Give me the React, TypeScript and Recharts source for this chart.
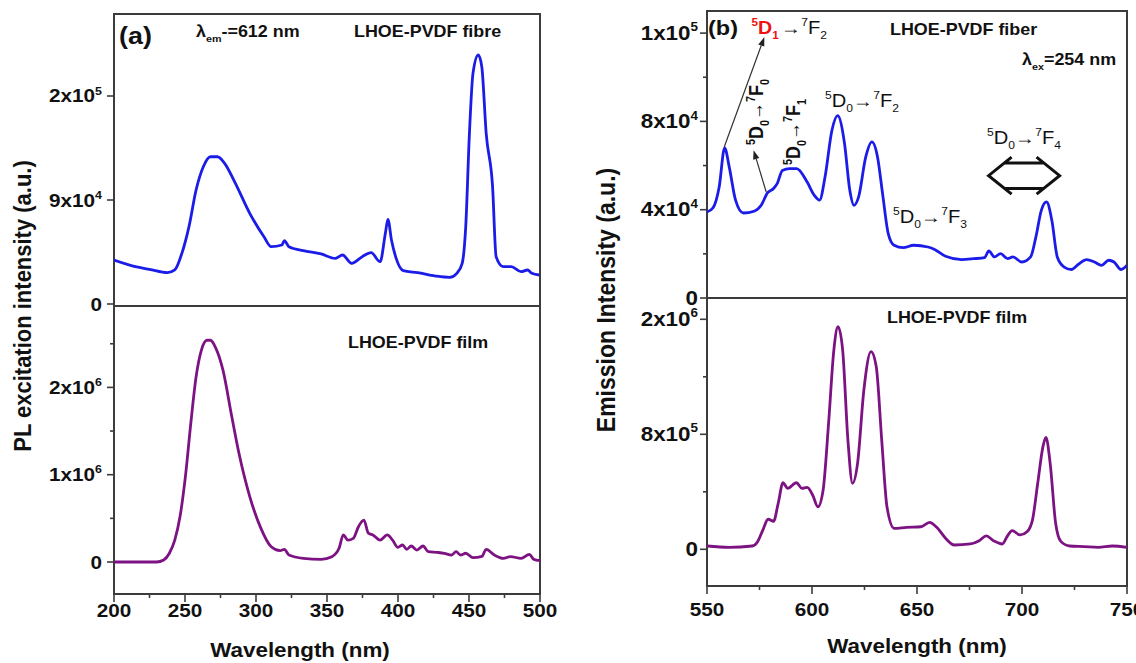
import { LineChart, Line, XAxis, YAxis, ReferenceArea, ReferenceLine } from 'recharts'

// ── look ────────────────────────────────────────────────────────────────────
const FONT   = '"Liberation Sans", Arial, Helvetica, sans-serif'
const SX     = 1.12          // the figure is a bit stretched sideways
const INK    = '#111111'
const FRAME  = '#3c3c3c'
const BLUE   = '#1c1ce8'
const PURPLE = '#7d1283'

// ── (a) excitation, LHOE-PVDF fibre ─────────────────────────────────────────
const excFibreNm = [
  200, 215, 225, 237.7, 242.8, 247.8, 252.8, 257.8, 262.9, 267.9,
  272.9, 277.9, 285.5, 295.6, 305.6, 310.7, 318.2, 320, 323.2, 333.3,
  345.9, 355.9, 361, 367.3, 374.8, 381.1, 387.4, 391.1, 392.9, 395.4,
  398.7, 403.7, 413.8, 426.4, 436.4, 441.4, 445.2, 447.7, 450.3, 452.8,
  456.5, 459, 462.1, 466.6, 469.1, 474.1, 479.7, 486.7, 491.2, 494.3,
  499.5,
]
const excFibreI = [
  42300, 35900, 33300, 30100, 32700, 48700, 74400, 109600, 132000, 141600,
  141600, 135300, 116000, 87200, 64700, 55100, 56700, 60900, 55100, 51300,
  48100, 43900, 47100, 39100, 45500, 49400, 40700, 68000, 81400, 61500,
  43900, 32100, 30100, 26900, 25600, 29500, 39100, 74400, 164000, 221800,
  239400, 228200, 164000, 112800, 45500, 35900, 35900, 31100, 32700, 29500,
  27900,
]

// ── (a) excitation, LHOE-PVDF film ──────────────────────────────────────────
const excFilmNm = [
  200, 230, 235, 239, 242.8, 246.5, 250.3, 254.1, 257.8, 261.6,
  265.4, 267.9, 271.7, 276.7, 283, 288, 295.6, 303.1, 310.7, 317,
  320, 323.2, 333.3, 345.9, 353.4, 358.5, 361.5, 364.7, 368.5, 372.3,
  376, 379.1, 382.3, 387.4, 392.4, 396.2, 399.9, 403.2, 406.2, 409.3,
  413.3, 417.6, 421.3, 427.6, 432.6, 437.7, 440.9, 444, 447.7, 452.8,
  459.1, 462.1, 467.9, 474.1, 479.2, 486.7, 492.5, 495.5, 500,
]
const excFilmI = [
  0, 0, 23000, 100000, 250000, 520000, 980000, 1590000, 2120000, 2430000,
  2540000, 2540000, 2450000, 2200000, 1660000, 1245000, 750000, 400000, 175000, 130000,
  145000, 80000, 42000, 31000, 61000, 157000, 310000, 250000, 270000, 410000,
  480000, 330000, 310000, 250000, 310000, 250000, 168000, 195000, 145000, 183000,
  137000, 183000, 118000, 110000, 100000, 80000, 118000, 80000, 100000, 50000,
  65000, 145000, 80000, 42000, 61000, 42000, 88000, 31000, 15000,
]

// ── (b) emission, LHOE-PVDF fiber ───────────────────────────────────────────
const emFibreNm = [
  550, 552.9, 555.8, 558.4, 560.6, 563.6, 567.3, 572.4, 575.8, 578.8,
  581.7, 583.4, 585.9, 589.3, 592.7, 597.7, 601.1, 603.6, 606.2, 609.5,
  612.2, 615.5, 618, 620, 622.2, 625.6, 628.5, 631.2, 633.6, 636.3,
  639.1, 643.4, 648.4, 655.2, 658.6, 663.6, 671.3, 677.1, 682.2, 684.2,
  686.9, 689.8, 693.2, 695.7, 699.9, 704.1, 706.6, 709.2, 711.7, 714.2,
  716.8, 720.1, 723.5, 726.9, 730.8, 734.5, 737.9, 741.3, 743.8, 747.2,
  750,
]
const emFibreI = [
  38960, 40900, 50300, 68000, 59300, 44300, 38500, 39300, 42000, 47600,
  49600, 51800, 57800, 58600, 58600, 52500, 46500, 44300, 54800, 76000,
  82600, 69900, 48800, 42000, 45800, 63900, 70700, 63900, 47300, 29200,
  23900, 22800, 23900, 23100, 21900, 18900, 17400, 17800, 18300, 21300,
  18600, 20100, 17800, 18600, 16300, 18600, 27600, 39700, 43500, 35200,
  18600, 14000, 12900, 15300, 17400, 16300, 14800, 17100, 16300, 12900,
  14800,
]

// ── (b) emission, LHOE-PVDF film ────────────────────────────────────────────
const emFilmNm = [
  550, 560.5, 571.5, 574.1, 576.6, 579.1, 581.7, 583.9, 586.2, 588.4,
  592.6, 595.2, 597.7, 600.3, 602.8, 605.3, 607.9, 610.4, 612.4, 614.6,
  617.1, 619.3, 621.7, 624.7, 628.1, 630.6, 633.2, 635.7, 639.1, 645,
  651.8, 656, 659.4, 663.6, 667.8, 675.4, 679.6, 683, 686.4, 690.6,
  693.1, 695.3, 699.1, 702.4, 705, 707.5, 710, 711.4, 713.4, 716,
  718.5, 722.7, 729.5, 736.3, 743, 750,
]
const emFilmI = [
  23000, 14000, 23000, 53000, 134000, 209000, 195000, 320000, 463000, 424000,
  463000, 424000, 431000, 378000, 296000, 413000, 877000, 1386000, 1549000, 1386000,
  760000, 459000, 598000, 1108000, 1375000, 1270000, 760000, 296000, 146000, 153000,
  157000, 188000, 153000, 77000, 30000, 37000, 60000, 93000, 60000, 37000,
  93000, 130000, 100000, 122000, 205000, 461000, 716000, 779000, 600000, 183000,
  55000, 23000, 19000, 14000, 23000, 14000,
]

// ── ticks (an empty label = minor tick) ─────────────────────────────────────
const excNmTicks      = [200, 225, 250, 275, 300, 325, 350, 375, 400, 425, 450, 475, 500]
const excNmLabels     = ['200', '', '250', '', '300', '', '350', '', '400', '', '450', '', '500']
const emNmTicks       = [550, 575, 600, 625, 650, 675, 700, 725, 750]
const emNmLabels      = ['550', '', '600', '', '650', '', '700', '', '750']

const excFibreTicks   = [0, 100000, 200000]
const excFibreLabels  = ['0', '9x10^4', '2x10^5']
const excFilmTicks    = [0, 500000, 1000000, 1500000, 2000000, 2500000]
const excFilmLabels   = ['0', '', '1x10^6', '', '2x10^6', '']
const emFibreTicks    = [0, 20000, 40000, 60000, 80000, 100000, 120000]
const emFibreLabels   = ['0', '', '4x10^4', '', '8x10^4', '', '1x10^5']
const emFilmTicks     = [0, 400000, 800000, 1200000, 1600000]
const emFilmLabels    = ['0', '', '8x10^5', '', '2x10^6']

const zip = (nm: number[], v: number[]) => nm.map((x, i) => ({ nm: x, v: v[i] }))

// ── text with ^sup and _sub markup ──────────────────────────────────────────
interface Part { t: string; sup?: boolean; sub?: boolean; thin?: boolean }

function parseMarkup(s: string): Part[] {
  const out: Part[] = []
  let buf = ''
  const flush = () => { if (buf) { out.push({ t: buf }); buf = '' } }
  for (let i = 0; i < s.length; i++) {
    const c = s[i]
    if (c === '^' || c === '_') {
      flush()
      let t = ''
      if (s[i + 1] === '{') {
        const j = s.indexOf('}', i + 2)
        t = s.slice(i + 2, j)
        i = j
      } else {
        t = s[i + 1]
        i++
      }
      out.push({ t, sup: c === '^', sub: c === '_' })
    } else if (c === '→') {
      flush()
      out.push({ t: c, thin: true })
    } else {
      buf += c
    }
  }
  flush()
  return out
}

interface RichProps {
  x: number
  y: number
  text: string
  size: number
  bold?: boolean
  anchor?: 'start' | 'middle' | 'end'
  rotate?: boolean
  fill?: string
}

function Rich({ x, y, text, size, bold, anchor = 'start', rotate, fill = INK }: RichProps) {
  let cur = 0
  const spans = parseMarkup(text).map((p, i) => {
    const target = p.sup ? -0.42 * size : p.sub ? 0.3 * size : 0
    const dy = target - cur
    cur = target
    return (
      <tspan
        key={i}
        dy={dy}
        fontSize={p.sup || p.sub ? size * 0.6 : size}
        fontWeight={p.thin ? 400 : undefined}
      >
        {p.t}
      </tspan>
    )
  })
  return (
    <g transform={`translate(${x},${y}) scale(${SX},1)${rotate ? ' rotate(-90)' : ''}`}>
      <text
        x={0}
        y={0}
        textAnchor={anchor}
        fontFamily={FONT}
        fontSize={size}
        fontWeight={bold ? 700 : 400}
        fill={fill}
      >
        {spans}
      </text>
    </g>
  )
}

// ── axis ticks ──────────────────────────────────────────────────────────────
function YTick(props: any) {
  const { x, y, payload, ticks, labels, size, gap } = props
  const label: string = labels[ticks.indexOf(payload.value)] ?? ''
  const major = label !== ''
  return (
    <g>
      <line x1={x} x2={x - (major ? 7 : 4)} y1={y} y2={y} stroke={FRAME} strokeWidth={1.6} />
      {major && <Rich x={x - gap} y={y + 6.5} text={label} size={size} bold anchor="end" />}
    </g>
  )
}

function XTick(props: any) {
  const { x, y, payload, ticks, labels, drop } = props
  const label: string = labels[ticks.indexOf(payload.value)] ?? ''
  const major = label !== ''
  return (
    <g>
      <line x1={x} x2={x} y1={y} y2={y + (major ? 8 : 4)} stroke={FRAME} strokeWidth={1.6} />
      {major && <Rich x={x} y={y + drop} text={label} size={18.5} bold anchor="middle" />}
    </g>
  )
}

// ── annotation arrows ───────────────────────────────────────────────────────
function ThinArrow(props: any) {
  const { x1, y1, x2, y2 } = props
  const a = Math.atan2(y2 - y1, x2 - x1)
  const len = 9
  const half = 3.2
  const bx = x2 - len * Math.cos(a)
  const by = y2 - len * Math.sin(a)
  const px = -Math.sin(a) * half
  const py = Math.cos(a) * half
  return (
    <g>
      <line x1={x1} y1={y1} x2={bx} y2={by} stroke="#333" strokeWidth={1.2} />
      <polygon points={`${x2},${y2} ${bx + px},${by + py} ${bx - px},${by - py}`} fill="#222" />
    </g>
  )
}

function DoubleArrow(props: any) {
  const { x1, y1, x2 } = props
  const L = Math.min(x1, x2)
  const R = Math.max(x1, x2)
  const cy = y1
  const w = 23
  const h = 18.5
  const s = 12.7
  const k = (w * s) / h
  const d = [
    `M${L + w},${cy - h} L${L},${cy} L${L + w},${cy + h}`,
    `M${R - w},${cy - h} L${R},${cy} L${R - w},${cy + h}`,
    `M${L + k},${cy - s} L${R - k},${cy - s}`,
    `M${L + k},${cy + s} L${R - k},${cy + s}`,
  ].join(' ')
  return <path d={d} fill="none" stroke="#111" strokeWidth={3} strokeLinejoin="miter" />
}

// ── one panel ───────────────────────────────────────────────────────────────
interface PanelProps {
  left: number
  top: number
  width: number
  height: number
  margin: { top: number; right: number; bottom: number; left: number }
  yWidth: number
  xHeight?: number
  data: { nm: number; v: number }[]
  color: string
  xDomain: [number, number]
  yDomain: [number, number]
  yTicks: number[]
  yLabels: string[]
  ySize: number
  yGap: number
  xTicks?: number[]
  xLabels?: string[]
  xDrop?: number
  children?: React.ReactNode
}

function Panel(p: PanelProps) {
  const showX = !!p.xTicks
  return (
    <div style={{ position: 'absolute', left: p.left, top: p.top }}>
      <LineChart width={p.width} height={p.height} data={p.data} margin={p.margin}>
        <XAxis
          type="number"
          dataKey="nm"
          domain={p.xDomain}
          allowDataOverflow
          hide={!showX}
          height={p.xHeight ?? 0}
          ticks={p.xTicks}
          interval={0}
          axisLine={false}
          tickLine={false}
          tickSize={0}
          tickMargin={0}
          tick={(t: any) => <XTick {...t} ticks={p.xTicks} labels={p.xLabels} drop={p.xDrop} />}
        />
        <YAxis
          type="number"
          domain={p.yDomain}
          allowDataOverflow
          width={p.yWidth}
          ticks={p.yTicks}
          interval={0}
          axisLine={false}
          tickLine={false}
          tickSize={0}
          tickMargin={0}
          tick={(t: any) => <YTick {...t} ticks={p.yTicks} labels={p.yLabels} size={p.ySize} gap={p.yGap} />}
        />
        <Line
          type="monotone"
          dataKey="v"
          stroke={p.color}
          strokeWidth={2.8}
          dot={false}
          activeDot={false}
          isAnimationActive={false}
        />
        {p.children}
        <ReferenceArea
          x1={p.xDomain[0]}
          x2={p.xDomain[1]}
          y1={p.yDomain[0]}
          y2={p.yDomain[1]}
          fill="none"
          stroke={FRAME}
          strokeWidth={2}
          ifOverflow="visible"
        />
      </LineChart>
    </div>
  )
}

export default function App() {
  return (
    <div
      style={{
        position:   'absolute',
        left:       0,
        top:        0,
        width:      1136,
        height:     663,
        overflow:   'hidden',
        background: '#ffffff',
      }}
    >
      {/* (a) top: fibre — extra bottom margin so the "0" label is not cut */}
      <Panel
        left={0} top={0} width={560} height={320}
        margin={{ top: 14, right: 20, bottom: 14, left: 0 }}
        yWidth={114}
        data={zip(excFibreNm, excFibreI)}
        color={BLUE}
        xDomain={[200, 500]}
        yDomain={[-1923, 278846]}
        yTicks={excFibreTicks} yLabels={excFibreLabels} ySize={18.5} yGap={12}
      />
      {/* (a) bottom: film */}
      <Panel
        left={0} top={306} width={560} height={357}
        margin={{ top: 0, right: 20, bottom: 0, left: 0 }}
        yWidth={114} xHeight={69}
        data={zip(excFilmNm, excFilmI)}
        color={PURPLE}
        xDomain={[200, 500]}
        yDomain={[-366550, 2932400]}
        yTicks={excFilmTicks} yLabels={excFilmLabels} ySize={18.5} yGap={12}
        xTicks={excNmTicks} xLabels={excNmLabels} xDrop={23}
      />
      {/* (b) top: fiber */}
      <Panel
        left={580} top={0} width={556} height={312}
        margin={{ top: 11, right: 9, bottom: 14, left: 0 }}
        yWidth={127}
        data={zip(emFibreNm, emFibreI)}
        color={BLUE}
        xDomain={[550, 750]}
        yDomain={[0, 130011]}
        yTicks={emFibreTicks} yLabels={emFibreLabels} ySize={20} yGap={9}
      >
        <ReferenceLine
          segment={[{ x: 558.2, y: 68400 }, { x: 577.3, y: 118200 }]}
          shape={(s: any) => <ThinArrow {...s} />}
        />
        <ReferenceLine
          segment={[{ x: 578.2, y: 48000 }, { x: 572.2, y: 66900 }]}
          shape={(s: any) => <ThinArrow {...s} />}
        />
        <ReferenceLine
          segment={[{ x: 684.1, y: 55400 }, { x: 717.9, y: 55400 }]}
          shape={(s: any) => <DoubleArrow {...s} />}
        />
      </Panel>
      {/* (b) bottom: film */}
      <Panel
        left={580} top={298} width={556} height={365}
        margin={{ top: 0, right: 9, bottom: 0, left: 0 }}
        yWidth={127} xHeight={77}
        data={zip(emFilmNm, emFilmI)}
        color={PURPLE}
        xDomain={[550, 750]}
        yDomain={[-255304, 1748174]}
        yTicks={emFilmTicks} yLabels={emFilmLabels} ySize={20} yGap={9}
        xTicks={emNmTicks} xLabels={emNmLabels} xDrop={30}
      />

      {/* text layer */}
      <svg
        width={1136}
        height={663}
        style={{ position: 'absolute', left: 0, top: 0, pointerEvents: 'none' }}
      >
        <Rich x={31} y={306} text="PL excitation intensity (a.u.)" size={22} bold rotate anchor="middle" />
        <Rich x={300} y={657} text="Wavelength (nm)" size={20} bold anchor="middle" />
        <Rich x={119} y={44} text="(a)" size={24} bold />
        <Rich x={196} y={37} text="λ_{em}-=612 nm" size={16} bold />
        <Rich x={354} y={37} text="LHOE-PVDF fibre" size={16} bold />
        <Rich x={348} y={348} text="LHOE-PVDF film" size={16} bold />

        <Rich x={615} y={300} text="Emission Intensity (a.u.)" size={23} bold rotate anchor="middle" />
        <Rich x={917} y={653} text="Wavelength (nm)" size={20} bold anchor="middle" />
        <Rich x={708} y={35} text="(b)" size={21} bold />
        <Rich x={751.5} y={33.5} text="^5D_1" size={17.5} bold fill="#ee1111" />
        <Rich x={781} y={33.5} text="→^7F_2" size={18} />
        <Rich x={890} y={35} text="LHOE-PVDF fiber" size={16} bold />
        <Rich x={1022} y={65} text="λ_{ex}=254 nm" size={16} bold />
        <Rich x={763} y={145} text="^5D_0→^7F_0" size={18} bold rotate />
        <Rich x={800} y={165} text="^5D_0→^7F_1" size={18} bold rotate />
        <Rich x={825} y={106.5} text="^5D_0→^7F_2" size={18} />
        <Rich x={987} y={144} text="^5D_0→^7F_4" size={18} />
        <Rich x={893} y={223} text="^5D_0→^7F_3" size={18} />
        <Rich x={887} y={323} text="LHOE-PVDF film" size={16} bold />
      </svg>
    </div>
  )
}
